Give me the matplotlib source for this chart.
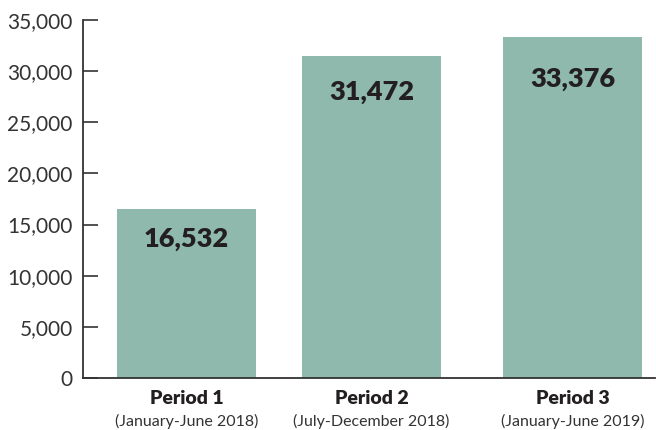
import matplotlib
matplotlib.use("Agg")
import matplotlib.pyplot as plt

periods = ["Period 1", "Period 2", "Period 3"]
ranges = ["(January-June 2018)", "(July-December 2018)", "(January-June 2019)"]
values = [16532, 31472, 33376]
y_ticks = [0, 5000, 10000, 15000, 20000, 25000, 30000, 35000]

# bar layout in axis units (pixels from the left spine)
centers = [103.5, 288.5, 489.5]
bar_width = 139
label_drop = [30, 36, 42]  # px below bar top for the value labels

bar_color = "#8FB9AC"
text_color = "#231F20"
axis_color = "#333333"
font = "Lato"

fig = plt.figure(figsize=(6.56, 4.30), dpi=100)
ax = fig.add_axes([83 / 656, 52 / 430, 572 / 656, 358 / 430])

ax.bar(centers, values, width=bar_width, color=bar_color, zorder=2)
ax.set_xlim(0, 572)
ax.set_ylim(0, 35000)

for x, v, d in zip(centers, values, label_drop):
    ax.annotate(f"{v:,}", xy=(x, v), xytext=(0, -d * 0.72), textcoords="offset points",
                ha="center", va="center", fontsize=19.5, fontweight="heavy",
                color=text_color, family=font)

ax.set_yticks(y_ticks)
ax.set_yticklabels([f"{t:,}" for t in y_ticks], fontsize=15, color=axis_color,
                   family=font)
ax.tick_params(axis="y", direction="in", length=11, width=1.2, color=axis_color, pad=7.5)
ax.set_xticks([])

for s in ["top", "right"]:
    ax.spines[s].set_visible(False)
for s in ["left", "bottom"]:
    ax.spines[s].set_color(axis_color)
    ax.spines[s].set_linewidth(1.3)

for x, p, r in zip(centers, periods, ranges):
    ax.annotate(p, xy=(x, 0), xycoords=("data", "axes fraction"), xytext=(0, -20 * 0.72),
                textcoords="offset points", ha="center", va="center", fontsize=14,
                fontweight="heavy", color=text_color, family=font)
    ax.annotate(r, xy=(x, 0), xycoords=("data", "axes fraction"), xytext=(0, -43 * 0.72),
                textcoords="offset points", ha="center", va="center", fontsize=11.5,
                color=axis_color, family=font)

fig.savefig("out.png", dpi=100)
